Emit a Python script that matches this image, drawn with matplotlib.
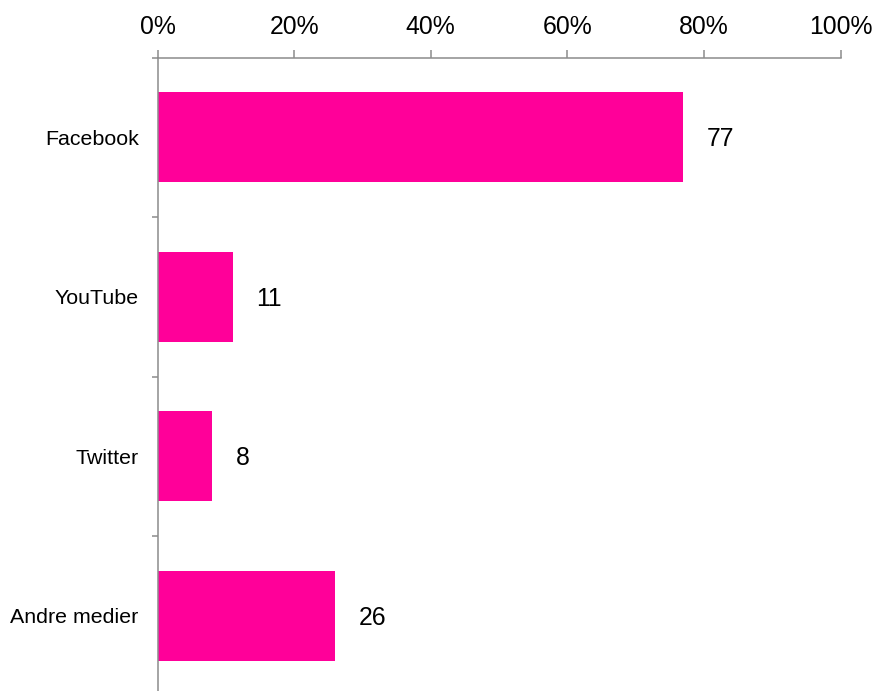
import numpy as np
import matplotlib.pyplot as plt
from matplotlib.ticker import FixedLocator, PercentFormatter

plt.rcParams['font.family'] = ['Liberation Sans', 'DejaVu Sans']

# data
categories = ["Facebook", "YouTube", "Twitter", "Andre medier"]
values = [77, 11, 8, 26]
bar_color = "#FF0099"
axis_gray = "#8C8C8C"

fig = plt.figure(figsize=(8.77, 6.91), dpi=100)
W, H = 877, 691
left, right, top, bottom = 157.5, 840.5, 57.5, 695.5
ax = fig.add_axes([left / W, (H - bottom) / H, (right - left) / W, (bottom - top) / H])

y = np.arange(len(categories))
ax.barh(y, values, height=0.565, color=bar_color, edgecolor='none')

ax.set_xlim(0, 100)
ax.set_ylim(len(categories) - 0.5, -0.5)

# value labels
for yi, v in zip(y, values):
    ax.annotate("%d" % v, xy=(v, yi), xytext=(17, -1.5), textcoords='offset points',
                ha='left', va='center', fontsize=17.8, color='black')

# top percentage axis
ax.xaxis.set_ticks_position('top')
ax.xaxis.set_label_position('top')
ax.set_xticks(np.arange(0, 101, 20))
ax.xaxis.set_major_formatter(PercentFormatter(decimals=0))
ax.tick_params(axis='x', direction='out', length=5.8, width=1.1, color=axis_gray,
               labelsize=17.8, pad=7.5)

# category axis: labels at centres, ticks between categories
ax.set_yticks(y)
ax.set_yticklabels(categories)
ax.yaxis.set_minor_locator(FixedLocator(np.arange(-0.5, len(categories), 1.0)))
ax.tick_params(axis='y', which='major', length=0, labelsize=15.4, pad=13.5)
ax.tick_params(axis='y', which='minor', direction='out', length=4, width=1.1, color=axis_gray)

for s in ['right', 'bottom']:
    ax.spines[s].set_visible(False)
for s in ['left', 'top']:
    ax.spines[s].set_color(axis_gray)
    ax.spines[s].set_linewidth(1.1)

fig.savefig("out.png", dpi=100)
